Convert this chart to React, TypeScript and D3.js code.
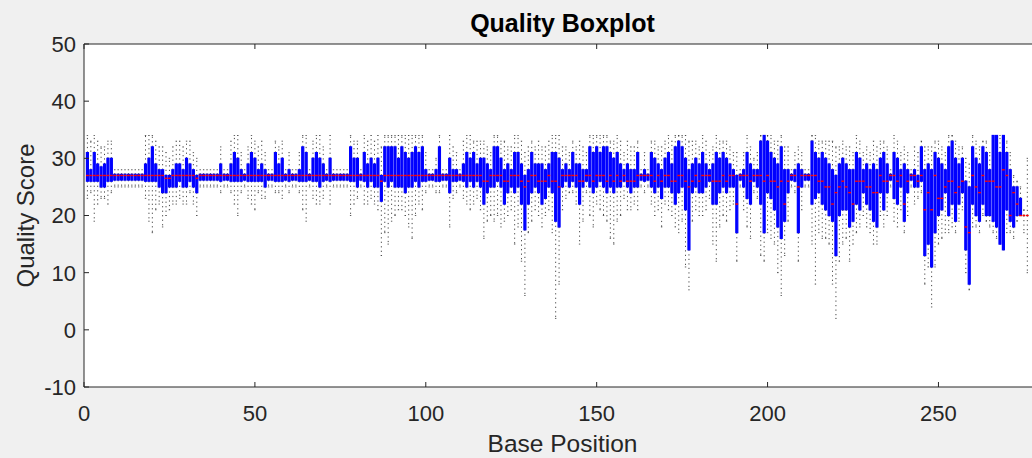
import React from "react";
import * as d3 from "d3";

// Per-position statistics (positions 1..276)
const whiskerHigh = [
  34,33,34,33,32,32,33,33,28,28,
  28,28,28,28,28,28,28,34,34,34,
  33,32,32,31,30,32,33,33,32,33,
  33,31,30,28,28,28,28,28,28,32,
  28,28,33,34,34,31,28,32,34,33,
  32,33,31,28,28,33,32,33,28,31,
  28,28,31,34,34,28,33,34,34,32,
  28,34,28,28,28,28,28,34,33,33,
  28,34,33,34,33,34,32,34,34,34,
  34,34,34,34,34,34,34,34,34,31,
  28,28,30,34,28,28,34,32,31,28,
  33,34,34,33,33,33,33,32,31,34,
  34,33,33,32,32,34,34,33,31,32,
  33,32,33,32,32,33,34,34,34,32,
  32,31,33,32,33,32,31,34,34,34,
  34,34,34,33,33,34,33,31,33,32,
  32,33,28,31,28,33,33,32,32,33,
  34,33,34,34,34,34,33,33,33,32,
  34,33,31,32,34,33,33,33,32,31,
  31,28,31,34,32,30,31,34,34,34,
  34,33,33,34,32,32,28,31,32,31,
  28,28,34,34,33,33,33,33,33,32,
  32,33,32,32,31,34,33,31,32,31,
  33,32,33,33,32,28,34,33,31,32,
  31,28,32,31,33,32,32,32,33,33,
  32,31,34,34,33,32,32,30,29,34,
  33,32,33,33,31,34,34,34,34,33,
  31,27,26,25,21,30,
];
const q3 = [
  31,28,31,29,28.5,29,30,30,27.2,27.2,
  27.2,27.2,27.2,27.2,27.2,27.2,27.2,29,30,32,
  29,28,28,27,27,28,29,29,28,30,
  29,28,27,27.2,27.2,27.2,27.2,27.2,27.2,29,
  27.2,27.2,29,31,30,28,27.2,29,31,30,
  28,29,28,27.2,27.2,31,29,30,27.2,28,
  27.2,27.2,28,32,31,27.2,30,31,30,29,
  27.2,30,27.2,27.2,27.2,27.2,27.2,32,30,30,
  27.2,31,29,30,29,30,27,32,32,32,
  32,30,32,31,30,31,32,31,32,28,
  27.2,27.2,28,32,27.2,27.2,30,28,28,27.2,
  29,31,30,31,29,30,30,29,28,32,
  32,30,28,29,28,31,31,29,27,28,
  31,29,29,29,28,29,31,31,30,28,
  29,28,31,29,29,28,28,32,31,32,
  31,32,32,31,30,31,29,28,29,28,
  28,31,27.2,28,27.2,31,30,29,28,30,
  31,29,32,33,32,30,28,29,30,29,
  31,29,28,29,31,30,31,30,29,28,
  27,27.2,28,31,29,28,28,33,34,33,
  31,30,29,32,28,28,27.2,28,29,28,
  27.2,27.2,33,31,30,31,30,29,28,27,
  29,30,29,28,28,31,30,28,29,28,
  29,28,30,31,29,27.2,31,30,28,29,
  28,27.2,28,27,32,28,29,28,31,30,
  29,28,32,33,30,29,30,26,25,32,
  30,29,32,31,28,34,34,31,34,31,
  28,25,25,23,20,20,
];
const median = [
  27,27,27,27,27,27,27,27,27,27,
  27,27,27,27,27,27,27,27,27,27,
  27,27,27,26.5,26.5,27,27,27,27,27,
  27,27,26.5,27,27,27,27,27,27,27,
  27,27,27,27,27,27,27,27,27,27,
  27,27,27,27,27,27,27,27,27,27,
  27,27,27,27,27,27,27,27,27,27,
  27,27,27,27,27,27,27,27,27,27,
  27,27,27,27,27,27,26,27,27,27,
  27,27,27,27,27,27,27,27,27,27,
  27,27,27,27,27,27,27,27,27,27,
  27,27,27,27,27,27,26,26,27,27,
  27,27,26,26,27,27,27,26,25,26,
  27,27,26,26,26,27,26,26,25,27,
  27,27,27,27,26,26,27,27,26,27,
  27,27,26,27,26,27,26,27,26,26,
  26,27,27,27,27,27,26,27,26,27,
  27,26,26,27,27,26,25,26,27,26,
  27,27,27,26,26,26,27,26,27,27,
  22,27,27,27,26,27,27,27,26,27,
  26,26,25,26,22,26,27,27,25,27,
  27,27,27,27,26,26,25,25,22,24,
  25,26,25,24,22,26,26,26,25,25,
  24,24,27,26,26,27,27,26,27,22,
  26,27,27,26,27,21,24,21,27,23,
  23,25,26,26,24,25,26,18,17,27,
  25,24,27,26,26,26,25,25,28,27,
  20,24,22,20,20,20,
];
const q1 = [
  26,26,26,26,25,25,26,26,26.2,26.2,
  26.2,26.2,26.2,26.2,26.2,26.2,26.2,26,26,26,
  26,25,24,24,25,25,25,26,25,25,
  26,25,24,26.2,26.2,26.2,26.2,26.2,26.2,26,
  26.2,26.2,26,26,26,26,26.2,26,26,26,
  26,26,25,26.2,26.2,26,26,26,26.2,26,
  26.2,26.2,26,26,26,26.2,26,26,25,26,
  26.2,26,26.2,26.2,26.2,26.2,26.2,26,26,25,
  26.2,26,25,26,25,25,22.5,26,25,26,
  25,25,25,24,25,25,26,25,26,26,
  26.2,26.2,26,26,26.2,26.2,24,26,26,26.2,
  26,25,26,25,26,25,22,24,25,25,
  26,25,22,24,25,24,25,22,17.5,22,
  24,25,24,22,23,25,24,19,18,25,
  26,25,26,25,22,25,26,25,24,25,
  26,25,24,25,24,25,25,26,25,24,
  25,25,26.2,26,26.2,25,24,25,23,25,
  25,24,22,24,25,21,14,24,25,24,
  24,25,26,22,22,24,25,24,25,25,
  17,26.2,25,23,22,26,25,22,17,24,
  23,21,18,16,19,24,26.2,26,17,25,
  26.2,26.2,22,23,24,22,21,20,19,13,
  20,21,21,18,19,22,21,24,22,21,
  19,18,24,21,24,26.2,23,22,25,19,
  24,26.2,25,25,26,13,15,11,17,20,
  21,24,20,22,19,22,24,14,8,22,
  20,19,22,20,20,19,18,15,14,21,
  19,18,20,20,20,20,
];
const whiskerLow = [
  23,24,19,22,23,23,22,24,25,25,
  25,25,25,25,25,25,25,23,19,17,
  21,22,18,20,21,22,22,23,22,22,
  24,22,20,25,25,25,25,25,25,24,
  25,25,24,22,20,24,25,23,22,21,
  24,23,23,25,25,24,24,23,25,24,
  25,25,24,21,19,25,23,22,22,23,
  25,22,25,25,25,25,25,20,22,23,
  25,22,22,23,22,21,13,17,15,19,
  20,21,21,20,18,16,20,22,21,24,
  25,25,24,24,25,25,18,23,24,25,
  23,22,21,22,23,21,16,19,20,19,
  20,18,19,20,21,15,18,12,6,17,
  19,21,20,18,20,21,17,2,8,21,
  23,24,24,22,15,19,24,20,18,22,
  21,20,19,16,15,19,20,23,21,21,
  22,21,25,24,25,22,20,21,18,22,
  21,20,18,17,19,11,7,19,21,20,
  20,21,23,15,12,18,20,19,21,22,
  12,25,21,18,16,24,23,13,12,17,
  16,15,10,6,13,19,25,24,12,21,
  25,25,15,8,17,16,16,15,8,2,
  12,15,16,12,15,17,18,20,18,17,
  15,15,20,18,20,25,19,18,21,17,
  20,25,22,23,24,8,11,4,11,15,
  16,17,17,18,17,19,21,10,7,18,
  18,17,20,19,18,17,16,15,14,17,
  17,16,19,20,17,10,
];
const xTicks = [0, 50, 100, 150, 200, 250];
const yTicks = [-10, 0, 10, 20, 30, 40, 50];

const W = 1032;
const H = 458;
const plotLeft = 84;
const plotTop = 44;
const plotBottom = 387;
const plotRight = 1041;
const FONT = "'Liberation Sans', Arial, Helvetica, sans-serif";
const AXIS = "#262626";

export default function App() {
  const x = d3.scaleLinear().domain([0, 280]).range([plotLeft, plotRight]);
  const y = d3.scaleLinear().domain([-10, 50]).range([plotBottom, plotTop]);
  const n = Math.min(whiskerHigh.length, q3.length, median.length, q1.length, whiskerLow.length);
  const data = d3.range(n).map((i) => ({
    pos: i + 1,
    hi: whiskerHigh[i],
    q3: q3[i],
    med: median[i],
    q1: q1[i],
    lo: whiskerLow[i],
  }));
  const boxW = x(0.58) - x(0);
  const capW = x(0.4) - x(0);

  return (
    <svg width={W} height={H} style={{ position: "absolute", left: 0, top: 0, display: "block" }}>
      <rect x={0} y={0} width={W} height={H} fill="#f0f0f0" />
      <rect x={plotLeft} y={plotTop} width={plotRight - plotLeft} height={plotBottom - plotTop} fill="#ffffff" />
      <defs>
        <clipPath id="plotClip">
          <rect x={plotLeft} y={plotTop} width={plotRight - plotLeft} height={plotBottom - plotTop} />
        </clipPath>
      </defs>
      <g clipPath="url(#plotClip)">
        {data.map((d) => (
          <g key={"w" + d.pos}>
            <line x1={x(d.pos)} x2={x(d.pos)} y1={y(d.q3)} y2={y(d.hi)} stroke="#000" strokeWidth={0.9} strokeDasharray="1.2 3.3" opacity={0.8} />
            <line x1={x(d.pos)} x2={x(d.pos)} y1={y(d.q1)} y2={y(d.lo)} stroke="#000" strokeWidth={0.9} strokeDasharray="1.2 3.3" opacity={0.8} />
            <line x1={x(d.pos) - capW / 2} x2={x(d.pos) + capW / 2} y1={y(d.hi)} y2={y(d.hi)} stroke="#000" strokeWidth={0.9} opacity={0.7} />
            <line x1={x(d.pos) - capW / 2} x2={x(d.pos) + capW / 2} y1={y(d.lo)} y2={y(d.lo)} stroke="#000" strokeWidth={0.9} opacity={0.7} />
          </g>
        ))}
        {data.map((d) => (
          <rect
            key={"b" + d.pos}
            x={x(d.pos) - boxW / 2}
            y={y(d.q3)}
            width={boxW}
            height={Math.max(0, y(d.q1) - y(d.q3))}
            fill="#0000ff"
            stroke="#0000ff"
            strokeWidth={1.2}
          />
        ))}
        {data.map((d) => (
          <line
            key={"m" + d.pos}
            x1={x(d.pos) - boxW / 2 - 0.4}
            x2={x(d.pos) + boxW / 2 + 0.4}
            y1={y(d.med)}
            y2={y(d.med)}
            stroke="#ff0000"
            strokeWidth={1.4}
          />
        ))}
      </g>
      <line x1={plotLeft} x2={plotLeft} y1={plotTop} y2={plotBottom} stroke={AXIS} strokeWidth={1} />
      <line x1={plotLeft} x2={plotRight} y1={plotBottom} y2={plotBottom} stroke={AXIS} strokeWidth={1} />
      <line x1={plotLeft} x2={plotRight} y1={plotTop} y2={plotTop} stroke={AXIS} strokeWidth={1} />
      {yTicks.map((t) => (
        <g key={"yt" + t}>
          <line x1={plotLeft} x2={plotLeft + 5} y1={y(t)} y2={y(t)} stroke={AXIS} strokeWidth={1} />
          <text x={plotLeft - 8} y={y(t)} dy="0.36em" textAnchor="end" fontFamily={FONT} fontSize={22} fill={AXIS}>
            {t}
          </text>
        </g>
      ))}
      {xTicks.map((t) => (
        <g key={"xt" + t}>
          <line x1={x(t)} x2={x(t)} y1={plotBottom} y2={plotBottom - 5} stroke={AXIS} strokeWidth={1} />
          <line x1={x(t)} x2={x(t)} y1={plotTop} y2={plotTop + 5} stroke={AXIS} strokeWidth={1} />
          <text x={x(t)} y={421} textAnchor="middle" fontFamily={FONT} fontSize={22} fill={AXIS}>
            {t}
          </text>
        </g>
      ))}
      <text x={(plotLeft + plotRight) / 2} y={32} textAnchor="middle" fontFamily={FONT} fontSize={25} fontWeight="bold" fill="#000">
        Quality Boxplot
      </text>
      <text x={(plotLeft + plotRight) / 2} y={452} textAnchor="middle" fontFamily={FONT} fontSize={24.5} fill={AXIS}>
        Base Position
      </text>
      <text transform={`translate(34, ${(plotTop + plotBottom) / 2}) rotate(-90)`} textAnchor="middle" fontFamily={FONT} fontSize={24} fill={AXIS}>
        Quality Score
      </text>
    </svg>
  );
}
